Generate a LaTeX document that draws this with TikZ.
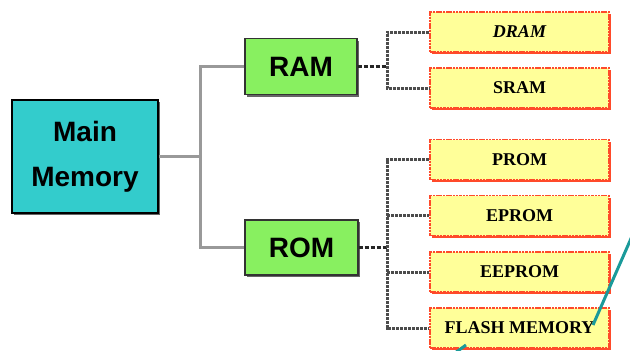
\documentclass[tikz,border=0pt]{standalone}
\usepackage{fontspec}
\setmainfont{Liberation Serif}
\newfontfamily\arialfont{Liberation Sans}
\usetikzlibrary{shadows}
\definecolor{mainteal}{HTML}{33CCCC}
\definecolor{ramgreen}{HTML}{88F060}
\definecolor{leafyellow}{HTML}{FFFF99}
\definecolor{leafred}{HTML}{FF4A2A}
\definecolor{arrowteal}{HTML}{1A9A9A}
\begin{document}
\begin{tikzpicture}[x=1pt,y=-1pt,
  mainbox/.style={draw=black, line width=1.6pt, fill=mainteal, minimum width=146pt, minimum height=113pt, inner sep=0pt, align=center,
    font=\arialfont\bfseries\fontsize{28}{45}\selectfont,
    drop shadow={shadow xshift=2pt, shadow yshift=-2pt, fill=black!60, opacity=1}},
  midbox/.style={draw=black!80, line width=1.4pt, fill=ramgreen, minimum width=112pt, minimum height=56pt, inner sep=0pt,
    font=\arialfont\bfseries\fontsize{28}{30}\selectfont,
    drop shadow={shadow xshift=1.5pt, shadow yshift=-2pt, fill=black!60, opacity=1}},
  leafbox/.style={draw=leafred, line width=1.3pt, dash pattern=on 2.5pt off 0.8pt, fill=leafyellow, minimum width=179pt, minimum height=40pt, inner sep=0pt,
    font=\bfseries\fontsize{18}{20}\selectfont,
    drop shadow={shadow xshift=1.5pt, shadow yshift=-2pt, fill=leafred, opacity=1}},
  trunk/.style={draw=black!40, line width=3pt},
  ramline/.style={draw=black!85, line width=2.4pt, dash pattern=on 4pt off 2pt},
  vline/.style={draw=black!70, line width=3pt, dash pattern=on 3pt off 1pt},
  pointer/.style={draw=arrowteal, line width=3pt}
]
\useasboundingbox (0,0) rectangle (630,351);
\fill[white] (0,0) rectangle (630,351);

\node[mainbox] (main) at (85,156.5) {Main\\Memory};
\node[midbox] (ram) at (301,66.5) {RAM};
\node[midbox, minimum width=113pt, minimum height=55pt] (rom) at (301.5,247.5) {ROM};

\node[leafbox] (dram) at (519.5,32) {\itshape DRAM};
\node[leafbox] (sram) at (519.5,88) {SRAM};
\node[leafbox] (prom) at (519.5,159.5) {PROM};
\node[leafbox] (eprom) at (519.5,215.5) {EPROM};
\node[leafbox] (eeprom) at (519.5,272) {EEPROM};
\node[leafbox] (flash) at (519.5,328) {FLASH MEMORY};

\coordinate (t) at (200,0);
\coordinate (r) at (387,0);

% trunk from main
\draw[trunk] (main.east) -- (t |- main.east);
\draw[trunk] (ram.west) -| (t |- rom.west) -- (rom.west);

% RAM branch
\draw[ramline] (ram.east) -- (r |- ram.east);
\draw[vline] (dram.west) -| (r |- sram.west) -- (sram.west);

% ROM branch
\draw[ramline] (rom.east) -- (r |- rom.east);
\draw[vline] (prom.west) -| (r |- flash.west) -- (flash.west);
\draw[vline] (r |- eprom.west) -- (eprom.west);
\draw[vline] (r |- eeprom.west) -- (eeprom.west);

% teal pointer lines
\coordinate (p1) at (593,325);
\coordinate (p2) at (633,234);
\draw[pointer] (p1) -- (p2);
\coordinate (q1) at (455,353);
\coordinate (q2) at (466,345);
\draw[pointer] (q1) -- (q2);
\end{tikzpicture}
\end{document}
